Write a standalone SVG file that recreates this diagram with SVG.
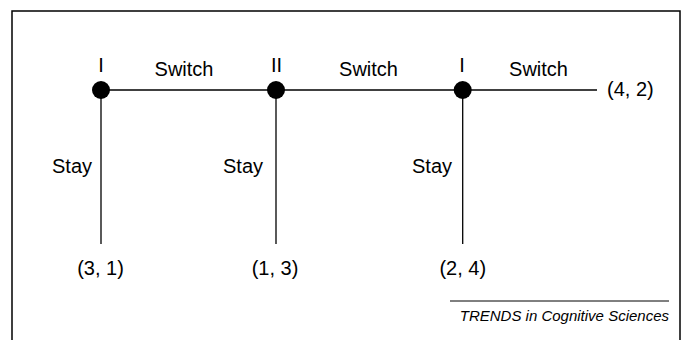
<svg xmlns="http://www.w3.org/2000/svg" width="684" height="340" viewBox="0 0 684 340">
<style>
.t{font-family:"Liberation Sans",Arial,sans-serif;font-size:20px;fill:#000}
.c{text-anchor:middle}
.ln{stroke:#000;stroke-width:1.3;fill:none}
.n{fill:#000}
.it{font-family:"Liberation Sans",Arial,sans-serif;font-size:15px;font-style:italic;fill:#000;text-anchor:end}
</style>
<rect x="12" y="11" width="668" height="345" fill="#fff" stroke="#000" stroke-width="1.5"/>
<g id="connectors">
<line class="ln" x1="101" y1="90" x2="597" y2="90"/>
<line class="ln" x1="101" y1="90" x2="101" y2="244"/>
<line class="ln" x1="276" y1="90" x2="276" y2="244"/>
<line class="ln" x1="462.7" y1="90" x2="462.7" y2="244"/>
<text class="t c" x="184" y="76">Switch</text>
<text class="t c" x="368.5" y="76">Switch</text>
<text class="t c" x="538.5" y="76">Switch</text>
<text class="t" x="52" y="173">Stay</text>
<text class="t" x="223" y="173">Stay</text>
<text class="t" x="412" y="173">Stay</text>
</g>
<g id="node1">
<circle class="n" cx="101" cy="90" r="9"/>
<text class="t c" x="101" y="72">I</text>
</g>
<g id="node2">
<circle class="n" cx="276" cy="90" r="9"/>
<text class="t c" x="276.5" y="72">II</text>
</g>
<g id="node3">
<circle class="n" cx="462.7" cy="90" r="9"/>
<text class="t c" x="462" y="72">I</text>
</g>
<g id="out1"><text class="t c" x="100.5" y="275">(3, 1)</text></g>
<g id="out2"><text class="t c" x="275" y="275">(1, 3)</text></g>
<g id="out3"><text class="t c" x="462.8" y="275">(2, 4)</text></g>
<g id="out4"><text class="t" x="607" y="96">(4, 2)</text></g>
<line x1="450" y1="301" x2="669" y2="301" stroke="#000" stroke-width="1"/>
<text class="it" x="669" y="321">TRENDS in Cognitive Sciences</text>
</svg>
